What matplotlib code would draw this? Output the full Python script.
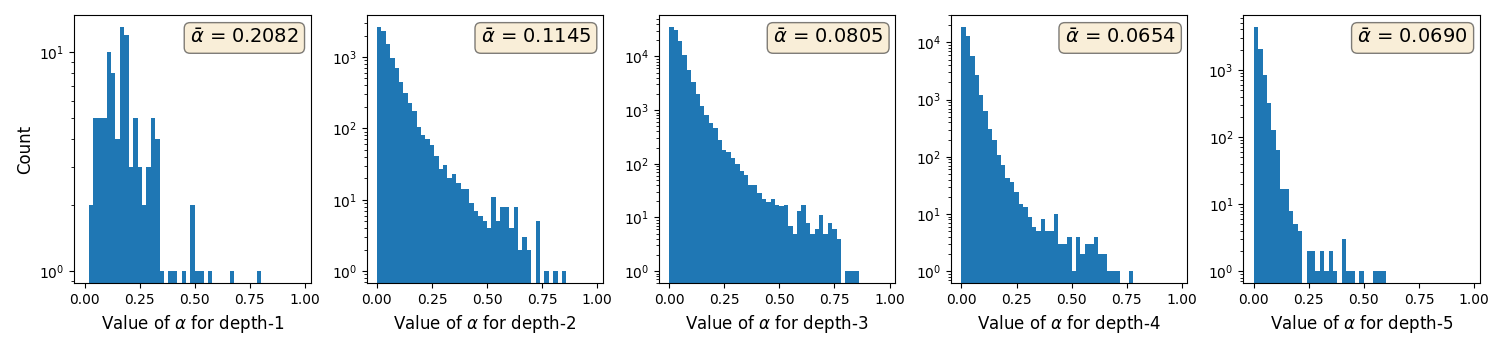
import numpy as np
import matplotlib
matplotlib.use('Agg')
import matplotlib.pyplot as plt

# histogram bins: width 0.02 over [0, 1]
bin_edges = np.linspace(0.0, 1.0, 51)

# counts per bin (trailing bins are empty)
counts_depth1 = [0, 2, 5, 5, 5, 10, 8, 4, 13, 12,
                 3, 5, 3, 2, 3, 5, 4, 1, 0, 1,
                 1, 0, 1, 0, 2, 1, 1, 0, 1, 0,
                 0, 0, 0, 1, 0, 0, 0, 0, 0, 1]
counts_depth2 = [2612, 2297, 1514, 955, 711, 450, 311, 225, 176, 103,
                 82, 71, 59, 41, 27, 31, 20, 23, 17, 14,
                 14, 9, 7, 6, 5, 4, 11, 5, 8, 8,
                 4, 8, 2, 3, 2, 0, 5, 0, 1, 0,
                 1, 0, 1]
counts_depth3 = [34900, 31600, 18960, 10740, 5510, 3350, 1980, 1202, 808, 566,
                 457, 278, 181, 169, 127, 100, 72, 63, 40, 41,
                 29, 22, 19, 22, 17, 16, 17, 7, 5, 13,
                 17, 8, 5, 6, 11, 5, 8, 6, 4, 0,
                 1, 1, 1]
counts_depth4 = [18490, 12880, 5710, 2670, 1197, 640, 303, 198, 108, 73,
                 43, 36, 24, 15, 13, 9, 6, 5, 8, 5,
                 5, 10, 3, 3, 4, 1, 4, 2, 3, 3,
                 4, 2, 2, 1, 1, 1, 0, 0, 1]
counts_depth5 = [4320, 2020, 834, 318, 128, 63, 17, 17, 8, 5,
                 4, 0, 2, 2, 1, 2, 1, 2, 1, 0,
                 3, 1, 1, 0, 1, 0, 0, 1, 1, 1]

depths = [1, 2, 3, 4, 5]
alpha_means = [0.2082, 0.1145, 0.0805, 0.0654, 0.0690]
all_counts = [counts_depth1, counts_depth2, counts_depth3, counts_depth4, counts_depth5]

fig, axes = plt.subplots(1, 5, figsize=(15, 3.5), dpi=100)
fig.subplots_adjust(left=0.0495, right=0.9864, top=0.957, bottom=0.1906, wspace=0.237)

props = dict(boxstyle='round', facecolor='wheat', alpha=0.5)
bin_centers = (bin_edges[:-1] + bin_edges[1:]) / 2

for ax, depth, mean, counts in zip(axes, depths, alpha_means, all_counts):
    weights = np.zeros(len(bin_centers))
    weights[:len(counts)] = counts
    ax.hist(bin_centers, bins=bin_edges, weights=weights, log=True, color='C0')
    ax.set_xlim(-0.047, 1.025)
    ax.set_xticks([0.0, 0.25, 0.5, 0.75, 1.0])
    ax.set_xlabel(r'Value of $\alpha$ for depth-%d' % depth, fontsize=12)
    ax.text(0.95, 0.95, r'$\bar{\alpha}$ = %.4f' % mean, transform=ax.transAxes,
            fontsize=14, ha='right', va='top', bbox=props)

axes[0].set_ylabel('Count', fontsize=12)

fig.savefig('out.png', dpi=100)
